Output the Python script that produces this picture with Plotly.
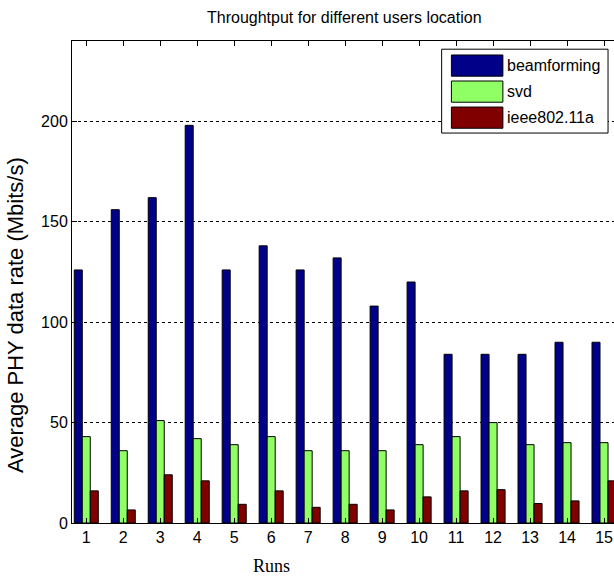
import plotly.graph_objects as go

# Throughput per run (Mbits/s)
runs = list(range(1, 16))
beamforming = [126, 156, 162, 198, 126, 138, 126, 132, 108, 120, 84, 84, 84, 90, 90]
svd = [43, 36, 51, 42, 39, 43, 36, 36, 36, 39, 43, 50, 39, 40, 40]
ieee80211a = [16, 6.5, 24, 21, 9.3, 16, 7.8, 9.3, 6.5, 13, 16, 16.6, 9.7, 11, 21]

series_names = ['beamforming', 'svd', 'ieee802.11a']
series_colors = ['#000088', '#90FF66', '#800000']
y_ticks = [0, 50, 100, 150, 200]

sans = 'Liberation Sans, Arial'

fig = go.Figure()
for name, vals, color in zip(series_names, [beamforming, svd, ieee80211a], series_colors):
    fig.add_trace(go.Bar(
        x=runs,
        y=vals,
        name=name,
        marker=dict(color=color, line=dict(color='black', width=1)),
        showlegend=False
    ))

# MATLAB-style legend box drawn by hand (big swatches)
shapes = [dict(type='rect', xref='paper', yref='paper',
               x0=0.682, x1=0.989, y0=0.809, y1=0.983,
               fillcolor='white', line=dict(color='black', width=1), layer='above')]
annotations = []
for i, (name, color) in enumerate(zip(series_names, series_colors)):
    top = 0.971 - i * 0.054
    shapes.append(dict(type='rect', xref='paper', yref='paper',
                       x0=0.700, x1=0.795, y0=top - 0.044, y1=top,
                       fillcolor=color, line=dict(color='black', width=1), layer='above'))
    annotations.append(dict(text=name, xref='paper', yref='paper',
                            x=0.799, y=top - 0.022, xanchor='left', yanchor='middle',
                            showarrow=False, font=dict(family=sans, size=16, color='black')))

annotations += [
    dict(text='Throughtput for different users location', xref='paper', yref='paper',
         x=0.502, y=1.048, xanchor='center', yanchor='middle', showarrow=False,
         font=dict(family=sans, size=16, color='black')),
    dict(text='Runs', xref='paper', yref='paper', x=0.369, y=-0.089,
         xanchor='center', yanchor='middle', showarrow=False,
         font=dict(family='Liberation Serif, Times New Roman, serif', size=18, color='black')),
    dict(text='Average PHY data rate (Mbits/s)', xref='paper', yref='paper',
         x=-0.105, y=0.4315, xanchor='center', yanchor='middle', textangle=-90,
         showarrow=False, font=dict(family=sans, size=22, color='black')),
]

fig.update_layout(
    width=614, height=576,
    margin=dict(l=72, r=0, t=41, b=53),
    paper_bgcolor='white', plot_bgcolor='white',
    barmode='group', bargap=0.35, bargroupgap=0.0,
    xaxis=dict(
        range=[0.614, 15.27], tickvals=runs, ticktext=[str(r) for r in runs],
        showline=True, linecolor='black', linewidth=1, mirror='ticks',
        ticks='inside', ticklen=5, tickcolor='black', showgrid=False,
        zeroline=False, tickfont=dict(family=sans, size=16, color='black')
    ),
    yaxis=dict(
        range=[0, 240], tickvals=y_ticks,
        showline=True, linecolor='black', linewidth=1, mirror=False,
        ticks='inside', ticklen=5, tickcolor='black',
        showgrid=True, gridcolor='black', gridwidth=1, griddash='3px,3px',
        zeroline=False, tickfont=dict(family=sans, size=16, color='black')
    ),
    shapes=shapes,
    annotations=annotations,
)

# drop the page's default body margin so the figure sits at the window's corner
fig.write_html('out.html', config={'displayModeBar': False},
               post_script="document.body.style.margin='0';")
